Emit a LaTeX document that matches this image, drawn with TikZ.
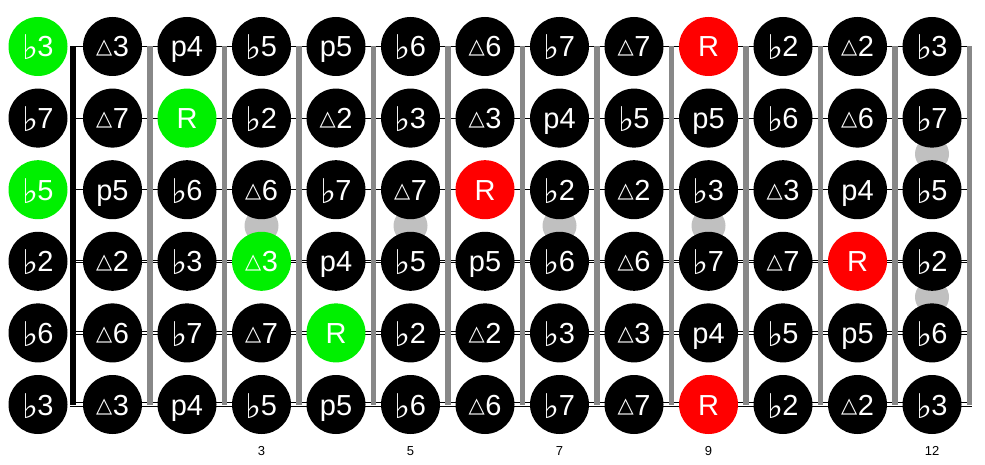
\documentclass[tikz,border=0pt]{standalone}
\usepackage{fontspec}
\setmainfont{Liberation Sans}
\newfontfamily\dejavu{DejaVu Sans}
\definecolor{nk}{RGB}{0,0,0}
\definecolor{ng}{RGB}{0,240,0}
\definecolor{nr}{RGB}{255,0,0}
\definecolor{fretgray}{RGB}{136,136,136}
\definecolor{dotgray}{RGB}{192,192,192}
\newcommand{\fl}{{\dejavu\fontsize{34}{34}\selectfont\raisebox{-3pt}{♭}}\kern-1pt}
\newcommand{\mj}{{\dejavu\fontsize{21}{21}\selectfont\raisebox{3pt}{△}}\kern0.5pt}
\begin{document}
\begin{tikzpicture}[x=1pt,y=-1pt,
  note/.style={circle,minimum size=59pt,inner sep=0pt,text=white,
    font=\fontsize{29}{29}\selectfont,text height=21pt,text depth=0pt},
  fretdot/.style={circle,minimum size=34pt,inner sep=0pt,fill=dotgray},
  fretnum/.style={font=\fontsize{13}{13}\selectfont,text=black},
  fretline/.style={fretgray,line width=5.5pt},
  nutline/.style={black,line width=5.5pt},
  thinstring/.style={black,line width=1pt}]
\useasboundingbox (0,0) rectangle (985,465);
% strings
\foreach \r in {0,...,5}{
  \coordinate (sL\r) at (70,{46.5+71.6*\r});
  \coordinate (sR\r) at (972,{46.5+71.6*\r});
}
\foreach \r in {0,1,2}{ \draw[thinstring] (sL\r) -- (sR\r); }
\foreach \r/\w/\g in {3/3/1.1,4/4/1.8,5/5/2.6}{
  \draw[black,line width=\w pt] (sL\r) -- (sR\r);
  \draw[white,line width=\g pt] (sL\r) -- (sR\r);
}
% nut and frets
\coordinate (fT0) at (73,46.5);
\coordinate (fB0) at (73,404.5);
\draw[nutline] (fT0) -- (fB0);
\foreach \k in {1,...,12}{
  \coordinate (fT\k) at ({75.25+74.5*\k},46.5);
  \coordinate (fB\k) at ({75.25+74.5*\k},404.5);
  \draw[fretline] (fT\k) -- (fB\k);
}
% position markers
\node[fretdot] (m3) at (261.5,225.8) {};
\node[fretdot] (m5) at (410.5,225.8) {};
\node[fretdot] (m7) at (559.5,225.8) {};
\node[fretdot] (m9) at (708.5,225.8) {};
\node[fretdot] (m12a) at (932,153.9) {};
\node[fretdot] (m12b) at (932,297.1) {};
% notes
\foreach \rowlist [count=\r from 0] in {
 {\fl3/ng,\mj3/nk,p4/nk,\fl5/nk,p5/nk,\fl6/nk,\mj6/nk,\fl7/nk,\mj7/nk,R/nr,\fl2/nk,\mj2/nk,\fl3/nk},
 {\fl7/nk,\mj7/nk,R/ng,\fl2/nk,\mj2/nk,\fl3/nk,\mj3/nk,p4/nk,\fl5/nk,p5/nk,\fl6/nk,\mj6/nk,\fl7/nk},
 {\fl5/ng,p5/nk,\fl6/nk,\mj6/nk,\fl7/nk,\mj7/nk,R/nr,\fl2/nk,\mj2/nk,\fl3/nk,\mj3/nk,p4/nk,\fl5/nk},
 {\fl2/nk,\mj2/nk,\fl3/nk,\mj3/ng,p4/nk,\fl5/nk,p5/nk,\fl6/nk,\mj6/nk,\fl7/nk,\mj7/nk,R/nr,\fl2/nk},
 {\fl6/nk,\mj6/nk,\fl7/nk,\mj7/nk,R/ng,\fl2/nk,\mj2/nk,\fl3/nk,\mj3/nk,p4/nk,\fl5/nk,p5/nk,\fl6/nk},
 {\fl3/nk,\mj3/nk,p4/nk,\fl5/nk,p5/nk,\fl6/nk,\mj6/nk,\fl7/nk,\mj7/nk,R/nr,\fl2/nk,\mj2/nk,\fl3/nk}}{
  \foreach \lab/\cl [count=\c from 0] in \rowlist {
    \node[note,fill=\cl] (n\r-\c) at ({38+74.5*\c},{46.5+71.6*\r}) {\lab};
  }
}
% fret numbers
\node[fretnum] (t3) at (261.5,451) {3};
\node[fretnum] (t5) at (410.5,451) {5};
\node[fretnum] (t7) at (559.5,451) {7};
\node[fretnum] (t9) at (708.5,451) {9};
\node[fretnum] (t12) at (932,451) {12};
\end{tikzpicture}
\end{document}
